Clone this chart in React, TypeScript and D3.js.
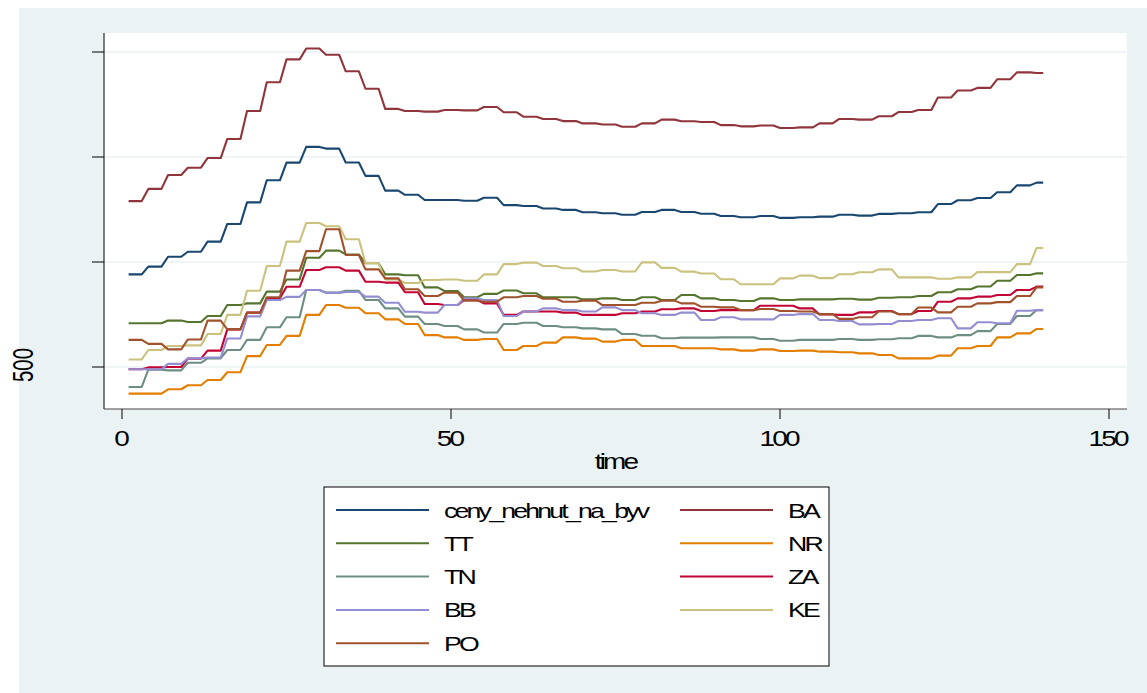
import React from "react";
import * as d3 from "d3";

// quarterly readings; the monthly series (time = 1..140) holds each value for three months
const time = d3.range(1, 141);

const ceny = [941, 978, 1025, 1049, 1097, 1181, 1284, 1389, 1473, 1548, 1540, 1474, 1410, 1340, 1320, 1295, 1295, 1292, 1306, 1271, 1267, 1255, 1248, 1237, 1232, 1225, 1238, 1248, 1238, 1230, 1219, 1213, 1219, 1210, 1213, 1216, 1225, 1221, 1229, 1232, 1237, 1276, 1294, 1305, 1332, 1365, 1378];
const BA = [1290, 1348, 1414, 1449, 1495, 1586, 1719, 1856, 1965, 2017, 1987, 1908, 1825, 1729, 1719, 1716, 1724, 1722, 1738, 1713, 1692, 1681, 1671, 1660, 1655, 1644, 1660, 1678, 1670, 1667, 1652, 1646, 1650, 1638, 1641, 1660, 1681, 1678, 1694, 1714, 1724, 1783, 1817, 1829, 1870, 1903, 1900];
const TT = [708, 708, 721, 714, 743, 795, 803, 859, 917, 1020, 1054, 1036, 994, 941, 937, 879, 862, 832, 848, 864, 851, 832, 832, 822, 827, 819, 832, 819, 843, 827, 819, 814, 827, 819, 822, 822, 825, 821, 830, 832, 838, 856, 870, 883, 911, 938, 946];
const NR = [373, 373, 394, 413, 438, 475, 552, 605, 648, 748, 795, 782, 756, 727, 705, 652, 641, 629, 633, 581, 600, 616, 641, 635, 621, 629, 600, 600, 589, 589, 584, 578, 584, 576, 578, 573, 570, 565, 557, 541, 541, 554, 589, 600, 641, 660, 681];
const TN = [405, 487, 484, 520, 541, 581, 629, 689, 737, 867, 855, 863, 819, 779, 740, 705, 695, 679, 664, 705, 711, 695, 689, 684, 679, 657, 649, 637, 640, 640, 641, 641, 633, 625, 629, 629, 633, 629, 632, 637, 648, 641, 652, 671, 705, 743, 771];
const ZA = [489, 498, 500, 540, 578, 679, 759, 827, 882, 962, 975, 959, 906, 902, 856, 800, 795, 819, 803, 748, 764, 764, 759, 748, 748, 756, 764, 775, 779, 767, 771, 771, 792, 792, 779, 750, 748, 760, 767, 752, 767, 811, 827, 835, 843, 867, 883];
const BB = [489, 489, 515, 541, 545, 636, 741, 819, 834, 867, 853, 857, 835, 806, 763, 759, 795, 827, 819, 743, 764, 779, 771, 764, 784, 771, 756, 748, 759, 724, 737, 727, 727, 748, 752, 724, 719, 703, 705, 719, 724, 732, 684, 713, 708, 768, 771];
const KE = [536, 581, 600, 603, 657, 748, 863, 981, 1097, 1186, 1170, 1108, 995, 917, 900, 914, 917, 911, 941, 990, 997, 981, 970, 955, 962, 955, 998, 972, 954, 945, 918, 894, 894, 922, 935, 923, 942, 951, 965, 927, 927, 920, 927, 952, 952, 990, 1067];
const PO = [629, 610, 584, 631, 721, 679, 759, 832, 959, 1052, 1156, 1033, 965, 922, 870, 838, 854, 816, 811, 832, 838, 825, 811, 816, 795, 795, 806, 816, 803, 787, 784, 771, 776, 767, 764, 752, 729, 737, 764, 752, 783, 760, 787, 803, 809, 838, 879];

const seriesNames = ["ceny_nehnut_na_byv", "BA", "TT", "NR", "TN", "ZA", "BB", "KE", "PO"];
const seriesData = [ceny, BA, TT, NR, TN, ZA, BB, KE, PO];
const seriesColors = ["#1a476f", "#90353b", "#55752f", "#e37e00", "#6e8e84", "#c10534", "#938dd2", "#cac27e", "#a0522d"];

const xTicks = [0, 50, 100, 150];
const yTicks = [500, 1000, 1500, 2000];
const yLabels = ["500"];

const W = 1147;
const H = 693;
const bg = "#eaf2f3";
const font = "'Liberation Sans', Arial, sans-serif";

const plot = { left: 104, right: 1127, top: 33, bottom: 409 };

const monthly = (q: number[]) => time.map((t) => ({ t, v: q[Math.floor((t - 1) / 3)] }));

// Stata's text: wide glyphs packed tightly
const Label: React.FC<{ x: number; y: number; size: number; anchor?: string; children: React.ReactNode }> = ({
  x,
  y,
  size,
  anchor = "start",
  children,
}) => (
  <text
    transform={`translate(${x},${y}) scale(1.27,1)`}
    textAnchor={anchor}
    fontSize={size}
    letterSpacing={-2.2}
    fill="#000"
  >
    {children}
  </text>
);

const App: React.FC = () => {
  const x = d3.scaleLinear().domain([0, 150]).range([122, 1109]);
  const y = d3.scaleLinear().domain([500, 2000]).range([367, 52]);

  const line = d3
    .line<{ t: number; v: number }>()
    .x((d) => x(d.t))
    .y((d) => y(d.v));

  const legend = { left: 324, top: 487, right: 829, bottom: 666 };

  return (
    <svg
      width={W}
      height={H}
      style={{ position: "absolute", left: 0, top: 0 }}
      fontFamily={font}
    >
      <rect x={0} y={0} width={W} height={H} fill="#ffffff" />
      <rect x={19} y={8} width={W - 19} height={H - 8} fill={bg} />
      <rect
        x={plot.left}
        y={plot.top}
        width={plot.right - plot.left}
        height={plot.bottom - plot.top}
        fill="#ffffff"
      />

      {/* grid */}
      {yTicks.map((v) => (
        <line
          key={"g" + v}
          x1={plot.left}
          x2={plot.right}
          y1={y(v)}
          y2={y(v)}
          stroke={bg}
          strokeWidth={1.6}
        />
      ))}

      {/* series */}
      {seriesData.map((q, i) => (
        <path
          key={seriesNames[i]}
          d={line(monthly(q)) || ""}
          fill="none"
          stroke={seriesColors[i]}
          strokeWidth={2.1}
          strokeLinejoin="round"
        />
      ))}

      {/* axes */}
      <line x1={plot.left} x2={plot.left} y1={plot.top} y2={plot.bottom} stroke="#000" strokeWidth={1} />
      <line x1={plot.left} x2={plot.right} y1={plot.bottom} y2={plot.bottom} stroke="#444" strokeWidth={1} />
      {yTicks.map((v) => (
        <line key={"yt" + v} x1={92} x2={plot.left} y1={y(v)} y2={y(v)} stroke="#000" strokeWidth={1} />
      ))}
      {yLabels.map((l) => (
        <text
          key={"yl" + l}
          transform={`translate(33,${y(+l) - 2}) rotate(-90)`}
          textAnchor="middle"
          fontSize={30}
          textLength={34}
          lengthAdjust="spacingAndGlyphs"
          fill="#000"
        >
          {l}
        </text>
      ))}
      {xTicks.map((v) => (
        <g key={"xt" + v}>
          <line x1={x(v)} x2={x(v)} y1={plot.bottom} y2={plot.bottom + 10} stroke="#000" strokeWidth={1} />
          <Label x={x(v) - 1.4} y={446} size={22} anchor="middle">
            {v}
          </Label>
        </g>
      ))}
      <Label x={(plot.left + plot.right) / 2} y={469} size={22} anchor="middle">
        time
      </Label>

      {/* legend */}
      <rect
        x={legend.left}
        y={legend.top}
        width={legend.right - legend.left}
        height={legend.bottom - legend.top}
        fill="#ffffff"
        stroke="#000"
        strokeWidth={1}
      />
      {seriesNames.map((name, i) => {
        const col = i % 2;
        const row = Math.floor(i / 2);
        const ly = 510 + row * 33.3;
        const lx = col === 0 ? 336 : 680;
        const tx = col === 0 ? 444 : 788;
        return (
          <g key={"lg" + name}>
            <line x1={lx} x2={lx + 93} y1={ly} y2={ly} stroke={seriesColors[i]} strokeWidth={2} />
            <Label x={tx} y={ly + 7.5} size={21}>
              {name}
            </Label>
          </g>
        );
      })}
    </svg>
  );
};

export default App;
